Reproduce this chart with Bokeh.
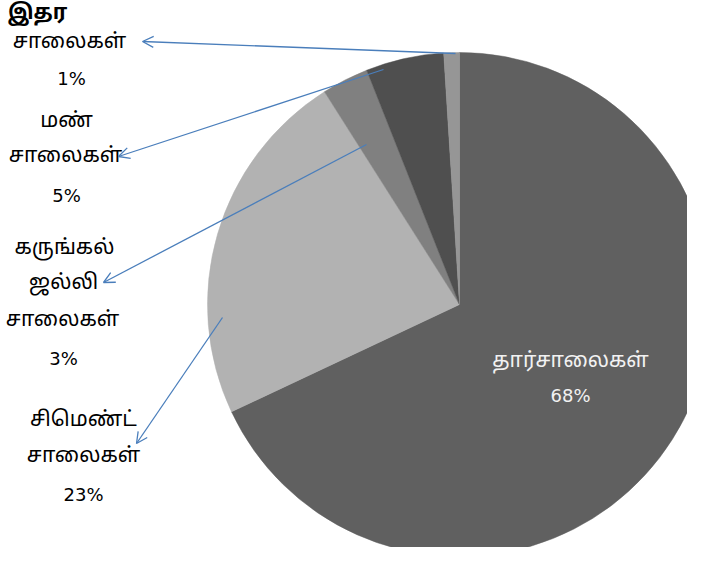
import math
from bokeh.plotting import figure
from bokeh.models import Range1d, Arrow, OpenHead, ColumnDataSource
from bokeh.core.properties import value
from bokeh.embed import file_html
from bokeh.resources import INLINE

# ---- data ----
categories = ["தார்சாலைகள்", "சிமெண்ட்\nசாலைகள்", "கருங்கல்\nஜல்லி\nசாலைகள்", "மண்\nசாலைகள்", "இதர\nசாலைகள்"]
percents = [68, 23, 3, 5, 1]
colors = ["#606060", "#b2b2b2", "#808080", "#4f4f4f", "#969696"]

# ---- layout (pixel coordinates of the picture) ----
W, H = 687, 547
def sy(y):
    return H - y

cx, cy, R = 459, 304, 252

# label line centres: (x, y of each name line, y of percent)
label_pos = [
    (570, [361], 395),
    (83, [420, 456], 494),
    (63, [248, 283, 320], 358),
    (66, [121, 156], 195),
    (69, [13, 42], 78),
]
label_x_override = {4: [37, 69], 3: [66, 65], 2: [64, 63, 62]}
label_colors = ["#f2f2f2", "#000000", "#000000", "#000000", "#000000"]
# leader arrows: (start x, start y, tip x, tip y)
arrows = [None, (222, 317, 136, 443), (366, 144, 103, 282), (383, 69, 118, 156), (455, 53, 142, 41)]

p = figure(width=W, height=H, output_backend="svg", toolbar_location=None,
           x_range=Range1d(0, W), y_range=Range1d(0, H),
           min_border=0, outline_line_color=None)
p.axis.visible = False
p.grid.visible = False
p.background_fill_color = "white"
p.border_fill_color = "white"

total = sum(percents)
starts, ends = [], []
c = 0.0
for v in percents:
    starts.append(math.pi / 2 - 2 * math.pi * c / total)
    c += v
    ends.append(math.pi / 2 - 2 * math.pi * c / total)

src = ColumnDataSource(dict(x=[cx] * len(percents), y=[sy(cy)] * len(percents),
                            start=starts, end=ends, color=colors))
p.wedge(x="x", y="y", radius=R, start_angle="start", end_angle="end",
        direction="clock", fill_color="color", line_color="color", line_width=0.5,
        source=src)

for a in arrows:
    if a is None:
        continue
    x0, y0, x1, y1 = a
    p.add_layout(Arrow(end=OpenHead(size=11, line_color="#4a7ebb", line_width=1.3),
                       x_start=x0, y_start=sy(y0), x_end=x1, y_end=sy(y1),
                       line_color="#4a7ebb", line_width=1.3))

tx, ty, tt, tc, tw = [], [], [], [], []
for i, name in enumerate(categories):
    lines = name.split("\n")
    x, ys, yp = label_pos[i]
    xs = label_x_override.get(i, [x] * len(lines))
    for k, (xx, yy, line) in enumerate(zip(xs, ys, lines)):
        tx.append(xx); ty.append(sy(yy)); tt.append(line); tc.append(label_colors[i])
        tw.append("bold" if (i == 4 and k == 0) else "normal")

p.text(x=tx, y=ty, text=tt, text_color=tc, text_align="center", text_baseline="middle",
       text_font=value("Noto Sans Tamil, Noto Sans"), text_font_size="21px",
       text_font_style=tw)

px = [label_pos[i][0] + (2 if i == 4 else 0) for i in range(len(percents))]
py = [sy(label_pos[i][2]) for i in range(len(percents))]
p.text(x=px, y=py, text=[f"{v}%" for v in percents], text_color=label_colors,
       text_align="center", text_baseline="middle",
       text_font=value("DejaVu Sans"), text_font_size="18px")

open("out.html", "w").write(file_html(p, INLINE))
